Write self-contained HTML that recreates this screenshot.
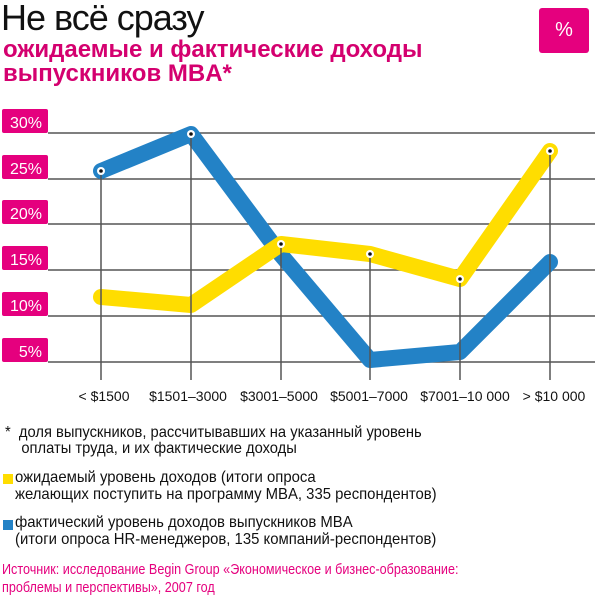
<!DOCTYPE html>
<html><head><meta charset="utf-8"><style>
body{margin:0;width:600px;height:599px;background:#fff;font-family:"Liberation Sans",sans-serif;position:relative;overflow:hidden}
.a{position:absolute;white-space:nowrap}
.s{transform-origin:0 0}
</style></head><body>
<div class="a" style="left:1px;top:-3px;font-size:36px;color:#111;letter-spacing:-1px">Не всё сразу</div>
<div class="a" style="left:3px;top:38px;font-size:24px;font-weight:bold;line-height:24px;color:#d4006f">ожидаемые и фактические доходы<br>выпускников MBA*</div>
<div class="a" style="left:539px;top:8px;width:50px;height:45px;background:#e5007e;border-radius:3px;color:#fff;font-size:20px;text-align:center;line-height:45px">%</div>
<svg class="a" style="left:0;top:0" width="600" height="420">
<g stroke="#555" stroke-width="1.5">
<line x1="48" y1="133" x2="595" y2="133"/><line x1="48" y1="179" x2="595" y2="179"/>
<line x1="48" y1="224" x2="595" y2="224"/><line x1="48" y1="270" x2="595" y2="270"/>
<line x1="48" y1="316" x2="595" y2="316"/><line x1="48" y1="362" x2="595" y2="362"/>
</g>
<g fill="#e5007e">
<rect x="2" y="109" width="46" height="24" rx="2"/><rect x="2" y="155" width="46" height="24" rx="2"/>
<rect x="2" y="200" width="46" height="24" rx="2"/><rect x="2" y="246" width="46" height="24" rx="2"/>
<rect x="2" y="292" width="46" height="24" rx="2"/><rect x="2" y="338" width="46" height="24" rx="2"/>
</g>
<g fill="#fff" font-size="16" text-anchor="end" font-family="Liberation Sans">
<text x="42" y="128">30%</text><text x="42" y="174">25%</text><text x="42" y="219">20%</text>
<text x="42" y="265">15%</text><text x="42" y="311">10%</text><text x="42" y="357">5%</text>
</g>
<polyline points="101,171 191,134 281,255 370,360 460,352 550,262" fill="none" stroke="#2382c6" stroke-width="16" stroke-linejoin="round" stroke-linecap="round"/>
<polyline points="101,297 191,305 281,244 370,254 460,279 550,151" fill="none" stroke="#ffdd00" stroke-width="16" stroke-linejoin="round" stroke-linecap="round"/>
<g stroke="#555" stroke-width="1.5">
<line x1="101" y1="171" x2="101" y2="380"/><line x1="191" y1="134" x2="191" y2="380"/>
<line x1="281" y1="244" x2="281" y2="380"/><line x1="370" y1="254" x2="370" y2="380"/>
<line x1="460" y1="279" x2="460" y2="380"/><line x1="550" y1="151" x2="550" y2="380"/>
</g>
<g fill="#fff"><circle cx="101" cy="171" r="4"/><circle cx="191" cy="134" r="4"/><circle cx="281" cy="244" r="4"/><circle cx="370" cy="254" r="4"/><circle cx="460" cy="279" r="4"/><circle cx="550" cy="151" r="4"/></g>
<g fill="#111"><circle cx="101" cy="171" r="1.8"/><circle cx="191" cy="134" r="1.8"/><circle cx="281" cy="244" r="1.8"/><circle cx="370" cy="254" r="1.8"/><circle cx="460" cy="279" r="1.8"/><circle cx="550" cy="151" r="1.8"/></g>
<g fill="#111" font-size="14" text-anchor="middle" font-family="Liberation Sans">
<text x="104" y="401">&lt; $1500</text><text x="188" y="401">$1501–3000</text><text x="279" y="401">$3001–5000</text>
<text x="369" y="401">$5001–7000</text><text x="465" y="401">$7001–10 000</text><text x="554" y="401">&gt; $10 000</text>
</g>
</svg>
<div class="a s" style="left:5px;top:425px;font-size:16px;line-height:16px;color:#111;transform:scaleX(0.92)">*&nbsp; доля выпускников, рассчитывавших на указанный уровень<br>&nbsp;&nbsp;&nbsp;&nbsp;оплаты труда, и их фактические доходы</div>
<div class="a" style="left:3px;top:474px;width:10px;height:10px;background:#ffdd00"></div>
<div class="a s" style="left:15px;top:469px;font-size:16px;line-height:17px;color:#111;transform:scaleX(0.93)">ожидаемый уровень доходов (итоги опроса<br>желающих поступить на программу MBA, 335 респондентов)</div>
<div class="a" style="left:3px;top:520px;width:10px;height:10px;background:#2382c6"></div>
<div class="a s" style="left:15px;top:514px;font-size:16px;line-height:17px;color:#111;transform:scaleX(0.93)">фактический уровень доходов выпускников MBA<br>(итоги опроса HR-менеджеров, 135 компаний-респондентов)</div>
<div class="a s" style="left:2px;top:561px;font-size:15px;line-height:18px;color:#e5007e;transform:scaleX(0.84)">Источник: исследование Begin Group «Экономическое и бизнес-образование:<br>проблемы и перспективы», 2007 год</div>
</body></html>
